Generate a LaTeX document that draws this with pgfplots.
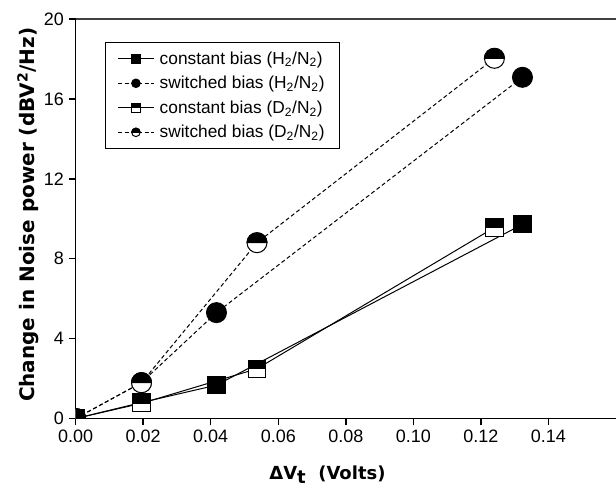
\documentclass[border=0pt]{standalone}
\usepackage{pgfplots}
\pgfplotsset{compat=1.18}
\usepackage{fontspec}
\setmainfont{Liberation Sans}
\newfontfamily\lblfont{DejaVu Sans}
\usetikzlibrary{calc}

% half-filled marks: upper half black, lower half white
\pgfdeclareplotmark{hsq}{%
  \pgfsetfillcolor{white}%
  \pgfpathrectangle{\pgfqpoint{-\pgfplotmarksize}{-\pgfplotmarksize}}{\pgfqpoint{2\pgfplotmarksize}{2\pgfplotmarksize}}%
  \pgfusepathqfillstroke
  \pgfsetfillcolor{black}%
  \pgfpathrectangle{\pgfqpoint{-\pgfplotmarksize}{0pt}}{\pgfqpoint{2\pgfplotmarksize}{\pgfplotmarksize}}%
  \pgfusepathqfillstroke
}
\pgfdeclareplotmark{hci}{%
  \pgfsetfillcolor{white}%
  \pgfpathcircle{\pgfpointorigin}{\pgfplotmarksize}%
  \pgfusepathqfillstroke
  \pgfsetfillcolor{black}%
  \pgfpathmoveto{\pgfqpoint{\pgfplotmarksize}{0pt}}%
  \pgfpatharc{0}{180}{\pgfplotmarksize}%
  \pgfpathclose
  \pgfusepathqfillstroke
}

\begin{document}
\begin{tikzpicture}
\begin{axis}[
name=ax,
width=405.75pt, height=300pt, scale only axis,
xmin=0, xmax=0.16, ymin=0, ymax=20,
xtick={0,0.02,0.04,0.06,0.08,0.10,0.12,0.14},
ytick={0,4,8,12,16,20},
axis x line*=bottom, axis y line*=left,
axis line style={line width=1.1pt},
tick style={line width=1.1pt, black},
tick align=outside,
major tick length=5.25pt,
/pgf/number format/assume math mode=true,
x tick label style={/pgf/number format/fixed, /pgf/number format/fixed zerofill, /pgf/number format/precision=2},
tick label style={font=\fontsize{13.5}{16}\selectfont},
xlabel={\lblfont\bfseries ΔV\raisebox{-0.4ex}{t}\ \ (Volts)},
ylabel={\lblfont\bfseries Change in Noise power (dBV\textsuperscript{2}/Hz)},
x label style={at={(axis description cs:0.466,0)}, anchor=center, yshift=-42pt, font=\fontsize{13.5}{16}\selectfont},
y label style={at={(axis description cs:-0.088,0.51)}, anchor=center, font=\fontsize{15}{18}\selectfont},
clip marker paths=true,
every axis plot/.append style={line width=0.75pt, black},
legend style={at={(axis description cs:0.0542,0.9433)}, anchor=north west, draw=black, line width=0.8pt,
  font=\fontsize{13}{15.6}\selectfont, inner xsep=9pt, inner ysep=5pt, row sep=3.5pt,
  /tikz/every odd column/.append style={column sep=2pt}},
legend cell align=left,
legend image code/.code={\draw[#1, mark size=3.2pt, mark repeat=2, mark phase=2] plot coordinates {(0pt,0pt) (13.5pt,0pt) (27pt,0pt)};},
]
\addplot[solid, mark=square*, mark size=6.5pt, mark options={solid, fill=black}]
  coordinates {(0,0) (0.0195,0.80) (0.0417,1.67) (0.1323,9.72)};
\addlegendentry{constant bias (H\textsubscript{2}/N\textsubscript{2})}
\addplot[dash pattern=on 3pt off 2pt, mark=*, mark size=7.5pt, mark options={solid, fill=black}]
  coordinates {(0,0) (0.0195,1.80) (0.0417,5.30) (0.1323,17.08)};
\addlegendentry{switched bias (H\textsubscript{2}/N\textsubscript{2})}
\addplot[solid, mark=hsq, mark size=6.5pt, mark options={solid}]
  coordinates {(0,0) (0.0195,0.76) (0.0537,2.49) (0.124,9.56)};
\addlegendentry{constant bias (D\textsubscript{2}/N\textsubscript{2})}
\addplot[dash pattern=on 3pt off 2pt, mark=hci, mark size=7.5pt, mark options={solid}]
  coordinates {(0,0) (0.0195,1.79) (0.0537,8.80) (0.124,18.03)};
\addlegendentry{switched bias (D\textsubscript{2}/N\textsubscript{2})}
\end{axis}
\draw[line width=1.1pt, black!75] (ax.north west) -- (ax.north east);
\pgfresetboundingbox
\path[use as bounding box] ($(ax.south west)+(-56.8pt,-51.75pt)$) rectangle ($(ax.north east)+(0pt,14.25pt)$);
\end{tikzpicture}
\end{document}
